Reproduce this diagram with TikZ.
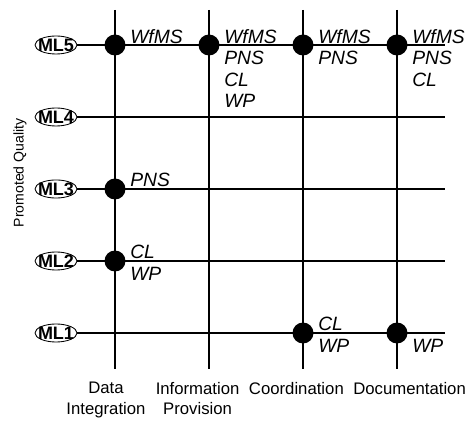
\documentclass[tikz,border=0pt]{standalone}
\usepackage{fontspec}
\setmainfont{Liberation Sans}
\usepackage{tikz}
\usetikzlibrary{shapes.geometric}
\tikzset{
  gridline/.style={draw=black, line width=0.9pt},
  mlnode/.style={ellipse, draw=black, semithick, inner xsep=-3pt, inner ysep=0pt,
    minimum width=1.05cm, minimum height=0.45cm, font=\fontsize{12.8pt}{14pt}\selectfont\bfseries},
  hitdot/.style={circle, fill=black, inner sep=0pt, minimum size=0.525cm},
  tag/.style={anchor=north west, align=left, inner sep=0pt,
    font=\fontsize{13.7pt}{15.3pt}\selectfont\itshape},
  colname/.style={anchor=north, align=center, inner sep=0pt,
    font=\fontsize{11.9pt}{14.6pt}\selectfont},
  axisname/.style={rotate=90, inner sep=0pt, font=\fontsize{10pt}{12pt}\selectfont},
}
\begin{document}
\begin{tikzpicture}
  \useasboundingbox (0,0) rectangle (11.775,10.65);
  % columns
  \foreach \c/\x in {di/2.875, ip/5.225, co/7.575, dc/9.925} {
    \coordinate (\c top) at (\x,10.4);
    \coordinate (\c bot) at (\x,1.425);
    \draw[gridline] (\c top) -- (\c bot);
  }
  % maturity levels
  \foreach \l/\y in {1/2.325, 2/4.125, 3/5.925, 4/7.725, 5/9.525} {
    \node[mlnode] (ml\l) at (1.4,\y) {ML\l};
    \coordinate (end\l) at (11.125,\y);
    \draw[gridline] (ml\l) -- (end\l);
  }
  % promoted qualities
  \foreach \l/\c/\txt in {5/di/{WfMS}, 5/ip/{WfMS\\PNS\\CL\\WP}, 5/co/{WfMS\\PNS},
      5/dc/{WfMS\\PNS\\CL}, 3/di/{PNS}, 2/di/{CL\\WP}, 1/co/{CL\\WP},
      1/dc/{\phantom{CL}\\WP}} {
    \node[hitdot] (hit\l\c) at (\c top |- ml\l) {};
    \node[tag, xshift=0.375cm, yshift=0.4cm] (tag\l\c) at (hit\l\c) {\txt};
  }
  \node[colname] (nmdi) at (2.65,1.1) {Data\\Integration};
  \node[colname] (nmip) at (4.94,1.1) {Information\\Provision};
  \node[colname] (nmco) at (7.41,1.1) {Coordination};
  \node[colname] (nmdc) at (10.24,1.1) {Documentation};
  \node[axisname] (axis) at (0.5,6.325) {Promoted Quality};
\end{tikzpicture}
\end{document}
